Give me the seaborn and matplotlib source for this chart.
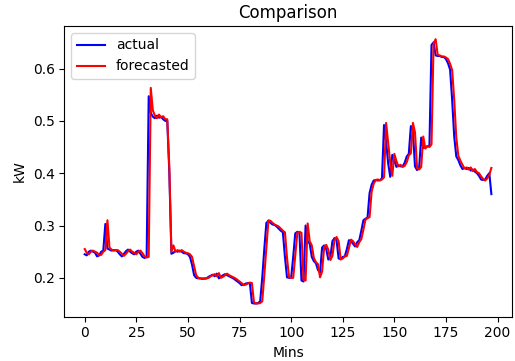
import numpy as np
import matplotlib
matplotlib.use("Agg")
import matplotlib.pyplot as plt
import seaborn as sns

actual = [
    0.245, 0.243, 0.250, 0.252, 0.250, 0.248, 0.241, 0.243, 0.250, 0.252,
    0.303, 0.256, 0.254, 0.252, 0.253, 0.253, 0.250, 0.245, 0.241, 0.246,
    0.251, 0.254, 0.250, 0.247, 0.245, 0.250, 0.252, 0.246, 0.240, 0.238,
    0.240, 0.547, 0.515, 0.508, 0.505, 0.510, 0.506, 0.508, 0.503, 0.500,
    0.500, 0.400, 0.246, 0.248, 0.252, 0.250, 0.252, 0.250, 0.247, 0.247,
    0.245, 0.240, 0.225, 0.205, 0.200, 0.199, 0.199, 0.198, 0.199, 0.199,
    0.202, 0.204, 0.206, 0.203, 0.208, 0.199, 0.202, 0.205, 0.207, 0.205,
    0.203, 0.201, 0.199, 0.196, 0.193, 0.190, 0.186, 0.187, 0.189, 0.190,
    0.190, 0.152, 0.151, 0.151, 0.152, 0.155, 0.200, 0.255, 0.305, 0.309,
    0.305, 0.302, 0.301, 0.298, 0.294, 0.290, 0.287, 0.240, 0.201, 0.200,
    0.200, 0.240, 0.285, 0.288, 0.287, 0.195, 0.193, 0.300, 0.270, 0.265,
    0.240, 0.232, 0.228, 0.215, 0.210, 0.258, 0.262, 0.255, 0.235, 0.240,
    0.270, 0.276, 0.272, 0.237, 0.236, 0.240, 0.241, 0.255, 0.272, 0.270,
    0.265, 0.260, 0.268, 0.272, 0.290, 0.310, 0.313, 0.315, 0.362, 0.378,
    0.386, 0.387, 0.386, 0.387, 0.390, 0.492, 0.460, 0.419, 0.393, 0.435,
    0.425, 0.412, 0.415, 0.413, 0.413, 0.420, 0.432, 0.437, 0.490, 0.480,
    0.413, 0.406, 0.410, 0.468, 0.448, 0.450, 0.451, 0.453, 0.645, 0.650,
    0.625, 0.624, 0.624, 0.622, 0.622, 0.618, 0.610, 0.598, 0.540, 0.470,
    0.432, 0.425, 0.415, 0.408, 0.410, 0.408, 0.410, 0.405, 0.407, 0.403,
    0.400, 0.395, 0.388, 0.387, 0.388, 0.395, 0.400, 0.360,
]

forecasted = [
    0.255, 0.248, 0.245, 0.250, 0.252, 0.250, 0.248, 0.243, 0.244, 0.250,
    0.253, 0.310, 0.258, 0.254, 0.252, 0.253, 0.253, 0.250, 0.246, 0.242,
    0.246, 0.251, 0.254, 0.250, 0.248, 0.245, 0.250, 0.252, 0.247, 0.241,
    0.239, 0.240, 0.563, 0.520, 0.510, 0.505, 0.512, 0.506, 0.509, 0.503,
    0.503, 0.410, 0.250, 0.262, 0.250, 0.253, 0.250, 0.253, 0.250, 0.248,
    0.247, 0.245, 0.240, 0.222, 0.205, 0.200, 0.199, 0.199, 0.198, 0.199,
    0.200, 0.203, 0.205, 0.207, 0.203, 0.209, 0.200, 0.202, 0.205, 0.208,
    0.205, 0.203, 0.201, 0.199, 0.196, 0.193, 0.190, 0.186, 0.187, 0.189,
    0.191, 0.190, 0.153, 0.151, 0.151, 0.152, 0.155, 0.205, 0.258, 0.310,
    0.309, 0.305, 0.302, 0.300, 0.298, 0.294, 0.290, 0.287, 0.238, 0.201,
    0.200, 0.200, 0.242, 0.286, 0.288, 0.286, 0.196, 0.195, 0.304, 0.270,
    0.262, 0.238, 0.230, 0.226, 0.201, 0.212, 0.259, 0.263, 0.254, 0.234,
    0.242, 0.272, 0.278, 0.270, 0.235, 0.237, 0.241, 0.242, 0.257, 0.273,
    0.270, 0.264, 0.259, 0.268, 0.274, 0.292, 0.311, 0.314, 0.316, 0.365,
    0.380, 0.387, 0.388, 0.386, 0.388, 0.392, 0.496, 0.458, 0.420, 0.395,
    0.437, 0.423, 0.413, 0.416, 0.412, 0.414, 0.421, 0.434, 0.438, 0.496,
    0.478, 0.410, 0.407, 0.412, 0.470, 0.447, 0.452, 0.450, 0.455, 0.648,
    0.656, 0.626, 0.625, 0.623, 0.623, 0.621, 0.618, 0.609, 0.597, 0.540,
    0.468, 0.433, 0.424, 0.416, 0.409, 0.411, 0.407, 0.411, 0.404, 0.408,
    0.402, 0.400, 0.394, 0.389, 0.386, 0.390, 0.397, 0.410,
]

mins = list(range(len(actual)))

fig = plt.figure(figsize=(5.15, 3.61), dpi=100)
ax = fig.add_axes([0.125, 0.1227, 0.8686, 0.8053])
sns.lineplot(x=mins, y=actual, color="blue", label="actual", ax=ax, linewidth=1.5)
sns.lineplot(x=mins, y=forecasted, color="red", label="forecasted", ax=ax, linewidth=1.5)
ax.set_title("Comparison")
ax.set_xlabel("Mins")
ax.set_ylabel("kW")
ax.set_xticks([0, 25, 50, 75, 100, 125, 150, 175, 200])
ax.set_yticks([0.2, 0.3, 0.4, 0.5, 0.6])
ax.legend(loc="upper left")
fig.savefig("out.png", dpi=100)
